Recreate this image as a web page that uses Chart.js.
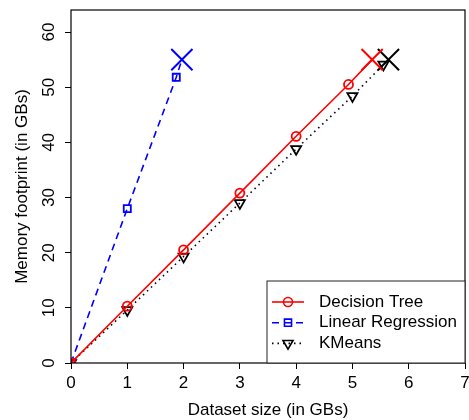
<!DOCTYPE html>
<html>
<head>
<meta charset="utf-8">
<script src="https://cdn.jsdelivr.net/npm/chart.js@4.4.1/dist/chart.umd.min.js"></script>
<style>
  body { margin: 0; background: #fff; }
  #wrap { width: 469px; height: 420px; }
</style>
</head>
<body>
<div id="wrap"><canvas id="memChart" width="469" height="420"></canvas></div>
<script>
// values
const seriesNames = ['Decision Tree', 'Linear Regression', 'KMeans'];
const treeX = [0, 1, 2, 3, 4, 4.93, 5.35];
const treeY = [0, 10.3, 20.5, 30.8, 41.1, 50.5, 55];
const linregX = [0, 1, 1.87, 1.97];
const linregY = [0, 28, 51.8, 55];
const kmeansX = [0, 1, 2, 3, 4, 5, 5.55, 5.64];
const kmeansY = [0, 9.6, 19.3, 29.0, 38.8, 48.4, 54.1, 55];
const xTicks = [0, 1, 2, 3, 4, 5, 6, 7];
const yTicks = [0, 10, 20, 30, 40, 50, 60];

const FONT = '17px "Liberation Sans", Arial, sans-serif';

function toPoints(xs, ys) {
  return xs.map((x, i) => ({ x: x, y: ys[i] }));
}

// last point of each series is the big "X"
function lastIs(ctx, a, b) {
  return ctx.dataIndex === ctx.dataset.data.length - 1 ? a : b;
}

function series(label, xs, ys, color, dash, marker, radius, rotation) {
  return {
    label: label,
    data: toPoints(xs, ys),
    showLine: true,
    borderColor: color,
    borderWidth: 1.6,
    borderDash: dash,
    pointBorderColor: color,
    pointBackgroundColor: 'rgba(0,0,0,0)',
    pointStyle: ctx => lastIs(ctx, 'crossRot', marker),
    pointRadius: ctx => lastIs(ctx, 15, radius),
    pointRotation: ctx => lastIs(ctx, 0, rotation),
    pointBorderWidth: ctx => lastIs(ctx, 2, 1.8),
    legendMarker: { pointStyle: marker, radius: radius, rotation: rotation, borderWidth: 1.8 }
  };
}

const frame = {
  id: 'frame',
  afterDraw(chart) {
    const ctx = chart.ctx;
    const a = chart.chartArea;
    const xs = chart.scales.x, ys = chart.scales.y;
    ctx.save();
    ctx.setLineDash([]);
    ctx.strokeStyle = '#000';
    ctx.lineWidth = 1.2;
    ctx.strokeRect(a.left, a.top, a.right - a.left, a.bottom - a.top);

    ctx.fillStyle = '#000';
    ctx.font = FONT;
    ctx.textAlign = 'center';
    ctx.textBaseline = 'middle';
    xs.ticks.forEach(t => {
      ctx.fillText(String(t.value), xs.getPixelForValue(t.value), 383);
    });
    ys.ticks.forEach(t => {
      ctx.save();
      ctx.translate(49, ys.getPixelForValue(t.value));
      ctx.rotate(-Math.PI / 2);
      ctx.fillText(String(t.value), 0, 0);
      ctx.restore();
    });
    ctx.fillText('Dataset size (in GBs)', (a.left + a.right) / 2, 410);
    ctx.save();
    ctx.translate(22, (a.top + a.bottom) / 2);
    ctx.rotate(-Math.PI / 2);
    ctx.fillText('Memory footprint (in GBs)', 0, 0);
    ctx.restore();

    // legend box
    const lx = 267, ly = 281;
    ctx.fillStyle = '#fff';
    ctx.fillRect(lx, ly, a.right - lx, a.bottom - ly);
    ctx.strokeStyle = '#222';
    ctx.lineWidth = 1;
    ctx.strokeRect(lx, ly, a.right - lx, a.bottom - ly);
    chart.data.datasets.forEach((ds, i) => {
      const y = 302 + i * 20.7;
      ctx.strokeStyle = ds.borderColor;
      ctx.lineWidth = ds.borderWidth;
      ctx.setLineDash(ds.borderDash);
      ctx.beginPath();
      ctx.moveTo(272, y);
      ctx.lineTo(304, y);
      ctx.stroke();
      ctx.setLineDash([]);
      ctx.fillStyle = 'rgba(0,0,0,0)';
      Chart.helpers.drawPoint(ctx, ds.legendMarker, 288, y);
      ctx.fillStyle = '#000';
      ctx.textAlign = 'left';
      ctx.fillText(ds.label, 319, y);
    });
    ctx.restore();
  }
};

new Chart(document.getElementById('memChart'), {
  type: 'scatter',
  data: {
    datasets: [
      series(seriesNames[0], treeX, treeY, '#ff0000', [], 'circle', 4.5, 0),
      series(seriesNames[1], linregX, linregY, '#0000ff', [7, 5], 'rect', 5, 0),
      series(seriesNames[2], kmeansX, kmeansY, '#000000', [1.5, 4], 'triangle', 5.8, 180)
    ]
  },
  options: {
    responsive: false,
    animation: false,
    events: [],
    layout: { autoPadding: false, padding: { top: 10, right: 4, left: 0, bottom: 0 } },
    plugins: { legend: { display: false }, tooltip: { enabled: false } },
    scales: {
      x: {
        type: 'linear',
        min: 0,
        max: 7,
        afterBuildTicks: s => { s.ticks = xTicks.map(v => ({ value: v })); },
        afterFit: s => { s.height = 57; },
        ticks: { display: false },
        border: { display: false },
        grid: { drawOnChartArea: false, drawTicks: true, tickLength: 6, color: '#000', lineWidth: 1 }
      },
      y: {
        type: 'linear',
        min: 0,
        max: 64,
        afterBuildTicks: s => { s.ticks = yTicks.map(v => ({ value: v })); },
        afterFit: s => { s.width = 71; },
        ticks: { display: false },
        border: { display: false },
        grid: { drawOnChartArea: false, drawTicks: true, tickLength: 6, color: '#000', lineWidth: 1 }
      }
    }
  },
  plugins: [frame]
});
</script>
</body>
</html>
